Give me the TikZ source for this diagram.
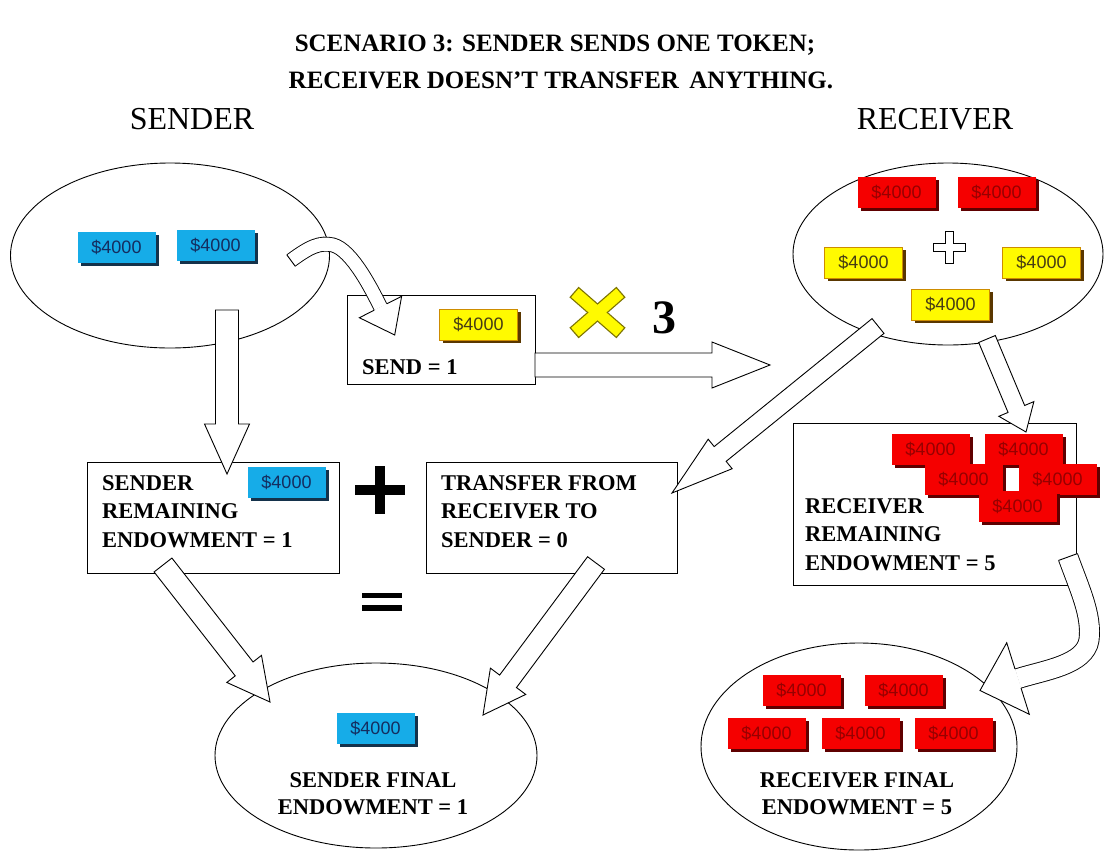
\documentclass[tikz,border=0pt]{standalone}
\usepackage{fontspec}
\setmainfont{Liberation Serif}
\newfontfamily\tokenfont{Liberation Sans}
\usetikzlibrary{calc, shapes.geometric, shadows}

\definecolor{tokblue}{RGB}{22,172,232}
\definecolor{blueink}{RGB}{20,45,95}
\definecolor{blueshade}{RGB}{20,50,75}
\definecolor{tokyellow}{RGB}{255,250,0}
\definecolor{yellowink}{RGB}{70,60,20}
\definecolor{yellowshade}{RGB}{90,55,0}
\definecolor{yellowedge}{RGB}{205,140,0}
\definecolor{tokred}{RGB}{245,0,0}
\definecolor{redink}{RGB}{150,0,0}
\definecolor{redshade}{RGB}{95,0,0}
\definecolor{crossedge}{RGB}{125,115,0}

\tikzset{
    token/.style={rectangle, minimum width=78pt, minimum height=31pt, inner sep=0pt,
        font=\tokenfont\fontsize{18}{21}\selectfont},
    bluetok/.style={token, fill=tokblue, text=blueink,
        drop shadow={shadow xshift=3pt, shadow yshift=-3pt, fill=blueshade, opacity=1}},
    yellowtok/.style={token, fill=tokyellow, draw=yellowedge, line width=0.8pt, text=yellowink,
        drop shadow={shadow xshift=3pt, shadow yshift=-3pt, fill=yellowshade, opacity=1}},
    redtok/.style={token, fill=tokred, text=redink,
        drop shadow={shadow xshift=3pt, shadow yshift=-3pt, fill=redshade, opacity=1}},
    pool/.style={ellipse, draw, line width=0.9pt, fill=white, inner sep=0pt},
    box/.style={rectangle, draw, line width=1pt, fill=white, inner sep=0pt},
    boxtext/.style={anchor=north west, align=left, inner sep=0pt,
        font=\bfseries\fontsize{22.5}{28.5}\selectfont},
    endtext/.style={anchor=north, align=center, inner sep=0pt,
        font=\bfseries\fontsize{22.5}{27.5}\selectfont},
    titletext/.style={anchor=base, inner sep=0pt, font=\bfseries\fontsize{25}{30}\selectfont},
    headtext/.style={anchor=base, inner sep=0pt, font=\fontsize{32}{38}\selectfont},
    arrowline/.style={draw=black, fill=white, line width=0.9pt, line join=miter},
}

% straight block arrow: tail, tip, half shaft, half head, head length
\newcommand{\blockarrow}[5]{%
    \coordinate (hb) at ($(#2)!#5!(#1)$);
    \filldraw[arrowline] ($(#1)!#3!90:(#2)$) -- ($(hb)!#3!90:(#2)$) -- ($(hb)!#4!90:(#2)$) -- (#2)
        -- ($(hb)!#4!-90:(#2)$) -- ($(hb)!#3!-90:(#2)$) -- ($(#1)!#3!-90:(#2)$) -- cycle;
}
% head of a bent arrow: base, tip, half head, half shaft
\newcommand{\blockhead}[4]{%
    \fill[white] ($(#1)!#3!90:(#2)$) -- (#2) -- ($(#1)!#3!-90:(#2)$) -- cycle;
    \draw[arrowline] ($(#1)!#4!90:(#2)$) -- ($(#1)!#3!90:(#2)$) -- (#2)
        -- ($(#1)!#3!-90:(#2)$) -- ($(#1)!#4!-90:(#2)$);
}

\begin{document}
\begin{tikzpicture}[x=1pt, y=-1pt]
    % nen va khung hinh
    \fill[white] (0,0) rectangle (1107,852);
    \useasboundingbox (0,0) rectangle (1107,852);

    % tieu de
    \node[titletext] (title1) at (555,51) {SCENARIO 3: SENDER SENDS ONE TOKEN;};
    \node[titletext] (title2) at (561,88) {RECEIVER DOESN’T TRANSFER\, ANYTHING.};
    \node[headtext] (sendhead) at (192,129) {SENDER};
    \node[headtext] (recvhead) at (935,129) {RECEIVER};

    % hinh elip va hop
    \node[pool, minimum width=319pt, minimum height=185pt] (sendpool) at (170,255.5) {};
    \node[pool, minimum width=310pt, minimum height=182pt] (recvpool) at (948,254) {};
    \node[pool, minimum width=322pt, minimum height=185pt] (sendfinal) at (376,755.5) {};
    \node[pool, minimum width=316pt, minimum height=207pt] (recvfinal) at (859,746.5) {};
    \node[box, minimum width=188pt, minimum height=89pt] (sendbox) at (441,339.5) {};
    \node[box, minimum width=252pt, minimum height=111pt] (remainbox) at (213,517.5) {};
    \node[box, minimum width=251pt, minimum height=111pt] (transferbox) at (551.5,517.5) {};
    \node[box, minimum width=283pt, minimum height=162pt] (recvbox) at (934.5,504) {};

    % token cua nguoi gui
    \node[bluetok] (sp1) at (116.5,247.5) {\$4000};
    \node[bluetok] (sp2) at (215.5,245.5) {\$4000};
    \node[yellowtok] (sb1) at (478.5,324.5) {\$4000};
    \node[bluetok] (rb1) at (286.5,482.5) {\$4000};
    \node[bluetok] (sf1) at (375.5,728.5) {\$4000};

    % token cua nguoi nhan
    \node[redtok] (rp1) at (896.5,192.5) {\$4000};
    \node[redtok] (rp2) at (996.5,192.5) {\$4000};
    \node[yellowtok] (rp3) at (863.5,262.5) {\$4000};
    \node[yellowtok] (rp4) at (1041.5,262.5) {\$4000};
    \node[yellowtok] (rp5) at (950.5,304.5) {\$4000};
    \node[redtok] (rr1) at (930.5,449.5) {\$4000};
    \node[redtok] (rr2) at (1023.5,449.5) {\$4000};
    \node[redtok] (rr3) at (963.5,479.5) {\$4000};
    \node[redtok] (rr4) at (1057.5,479.5) {\$4000};
    \node[redtok] (rr5) at (1017.5,506.5) {\$4000};
    \node[redtok] (rf1) at (801.5,690.5) {\$4000};
    \node[redtok] (rf2) at (903.5,690.5) {\$4000};
    \node[redtok] (rf3) at (766.5,733.5) {\$4000};
    \node[redtok] (rf4) at (860.5,733.5) {\$4000};
    \node[redtok] (rf5) at (953.5,733.5) {\$4000};

    % dau cong rong trong elip nguoi nhan
    \draw[line width=0.8pt, fill=white] (945,231) -- (953,231) -- (953,243) -- (965,243) -- (965,251)
        -- (953,251) -- (953,263) -- (945,263) -- (945,251) -- (933,251) -- (933,243) -- (945,243) -- cycle;

    % dau nhan mau vang va so 3
    \coordinate (xa) at (574,292); \coordinate (xb) at (621,333);
    \coordinate (xc) at (574,333); \coordinate (xd) at (621,292);
    \draw[line width=14pt, crossedge] (xa) -- (xb);
    \draw[line width=14pt, crossedge] (xc) -- (xd);
    \draw[line width=11.5pt, tokyellow, shorten <=1.3pt, shorten >=1.3pt] (xa) -- (xb);
    \draw[line width=11.5pt, tokyellow, shorten <=1.3pt, shorten >=1.3pt] (xc) -- (xd);
    \node[anchor=base, inner sep=0pt, font=\bfseries\fontsize{48}{50}\selectfont] (times) at (664,333) {3};

    % dau cong va dau bang
    \fill (375,466) rectangle (385,514);
    \fill (355,485) rectangle (405,495);
    \fill (362,593) rectangle (402,598);
    \fill (362,605) rectangle (402,611);

    % mui ten thang
    \coordinate (downT) at (227,310);   \coordinate (downH) at (227,474);
    \coordinate (sendT) at (535,365);   \coordinate (sendH) at (770,365);
    \coordinate (backT) at (878,326);   \coordinate (backH) at (672,493);
    \coordinate (keepT) at (987,339);   \coordinate (keepH) at (1026,432);
    \coordinate (leftT) at (163,565);   \coordinate (leftH) at (270,702);
    \coordinate (rightT) at (596,563);  \coordinate (rightH) at (483,715);
    \blockarrow{downT}{downH}{11.5pt}{22.5pt}{50pt}
    \blockarrow{sendT}{sendH}{12pt}{23pt}{58pt}
    \blockarrow{backT}{backH}{9.5pt}{19pt}{62pt}
    \blockarrow{keepT}{keepH}{9pt}{19pt}{25pt}
    \blockarrow{leftT}{leftH}{11.3pt}{22pt}{42pt}
    \blockarrow{rightT}{rightH}{10.5pt}{22pt}{42pt}

    % mui ten cong tu elip nguoi gui xuong hop SEND
    \coordinate (giveT) at (291,260.5); \coordinate (giveC) at (310,246.5);
    \coordinate (giveB) at (380.5,307); \coordinate (giveH) at (394.7,335);
    \draw[double=white, double distance=13.1pt, line width=0.9pt]
        (giveT) .. controls (giveC) and (320,242) .. (333,245) .. controls (352,250) and (372,290) .. (giveB);
    \draw[line width=0.9pt] ($(giveT)!7pt!90:(giveC)$) -- ($(giveT)!7pt!-90:(giveC)$);
    \blockhead{giveB}{giveH}{23.7pt}{7pt}

    % mui ten cong tu hop nguoi nhan xuong elip cuoi
    \coordinate (endT) at (1068,557); \coordinate (endC) at (1080,590);
    \coordinate (endB) at (1018,678.5); \coordinate (endH) at (980,690.5);
    \draw[double=white, double distance=19.1pt, line width=0.9pt]
        (endT) .. controls (endC) and (1092,615) .. (1089,640) .. controls (1085,665) and (1045,670) .. (endB);
    \draw[line width=0.9pt] ($(endT)!10pt!90:(endC)$) -- ($(endT)!10pt!-90:(endC)$);
    \blockhead{endB}{endH}{37.5pt}{10pt}

    % chu trong hop va elip
    \node[boxtext] (sendlabel) at (362,359) {SEND = 1};
    \node[boxtext] (remainlabel) at (102,475) {SENDER\\REMAINING\\ENDOWMENT = 1};
    \node[boxtext] (transferlabel) at (441,475) {TRANSFER FROM\\RECEIVER TO\\SENDER = 0};
    \node[boxtext] (recvlabel) at (805,498) {RECEIVER\\REMAINING\\ENDOWMENT = 5};
    \node[endtext] (sendfinallabel) at (373,772) {SENDER FINAL\\ENDOWMENT = 1};
    \node[endtext] (recvfinallabel) at (857,772) {RECEIVER FINAL\\ENDOWMENT = 5};
\end{tikzpicture}
\end{document}
